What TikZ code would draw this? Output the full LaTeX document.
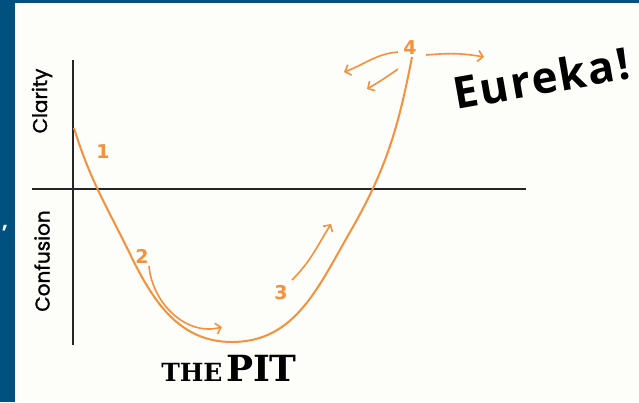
\documentclass[tikz,border=0pt]{standalone}
\usepackage{fontspec}
\setmainfont{Poppins}
\newfontfamily\sidefont[AutoFakeBold=1.3]{Poppins}
\newfontfamily\numfont{DejaVu Sans}
\newfontfamily\slabfont{DejaVu Serif}
\newfontfamily\handfont[LetterSpace=5]{Open Sans}
\usetikzlibrary{arrows.meta}

\definecolor{pitblue}{HTML}{00517F}
\definecolor{pitorange}{HTML}{F5903C}
\definecolor{pitpaper}{HTML}{FDFDF9}

\begin{document}
\begin{tikzpicture}[x=1pt,y=-1pt,
    axis/.style={line width=1.6pt,black!85},
    pit/.style={line width=2pt,pitorange},
    hint/.style={line width=1.6pt,pitorange,-{Straight Barb[length=5pt,width=11pt]}},
    num/.style={text=pitorange,font=\numfont\bfseries\fontsize{19}{19}\selectfont,inner sep=0pt},
    side/.style={rotate=90,font=\sidefont\bfseries\fontsize{20}{20}\selectfont,inner sep=0pt}]
  \useasboundingbox (0,0) rectangle (639,402);
  \fill[pitblue] (0,0) rectangle (639,402);
  \fill[pitpaper] (15,3) rectangle (639,402);
  \node[text=white,font=\bfseries\fontsize{20}{20}\selectfont] (comma) at (5,228) {,};

  % axes
  \coordinate (ytop) at (73,60);
  \coordinate (ybot) at (73,345);
  \coordinate (xleft) at (32,189);
  \coordinate (xright) at (526,189);
  \draw[axis] (ytop) -- (ybot);
  \draw[axis] (xleft) -- (xright);
  \node[side] (clarity) at (42,101) {Clarity};
  \node[side] (confusion) at (42,261) {Confusion};

  % the curve
  \coordinate (c0) at (74,128);
  \coordinate (c2) at (131,256);
  \coordinate (c4) at (232,342);
  \coordinate (c6) at (350,232);
  \coordinate (c8) at (412,57);
  \draw[pit] (c0) to[out=-73,in=116] (c2) to[out=-64,in=180] (c4)
    to[out=0,in=-120] (c6) to[out=60,in=-101] (c8);

  \node[num] (n1) at (103,152) {1};
  \node[num] (n2) at (142,256) {2};
  \node[num] (n3) at (281,293) {3};
  \node[num] (n4) at (410,48) {4};

  \coordinate (a2s) at (149,266);
  \coordinate (a2e) at (222,327);
  \coordinate (a3s) at (292,280);
  \coordinate (a3e) at (331,224);
  \coordinate (a4rs) at (426,55);
  \coordinate (a4r) at (484,57);
  \coordinate (a4ls) at (398,52);
  \coordinate (a4l) at (344,72);
  \coordinate (a4ds) at (398,69);
  \coordinate (a4d) at (367,89);
  \draw[hint] (a2s) to[out=-85,in=195] (a2e);
  \draw[hint] (a3s) to[out=45,in=-122] (a3e);
  \draw[hint] (a4rs) to[out=5,in=170] (a4r);
  \draw[hint] (a4ls) to[out=185,in=20] (a4l);
  \draw[hint] (a4ds) to[out=215,in=30] (a4d);

  \node[rotate=10,font=\handfont\bfseries\fontsize{44}{44}\selectfont] (eureka) at (541,78) {Eureka!};
  \node[font=\slabfont\bfseries] (pit) at (229,368)
    {{\fontsize{25}{25}\selectfont THE} {\fontsize{36}{36}\selectfont PIT}};
\end{tikzpicture}
\end{document}
